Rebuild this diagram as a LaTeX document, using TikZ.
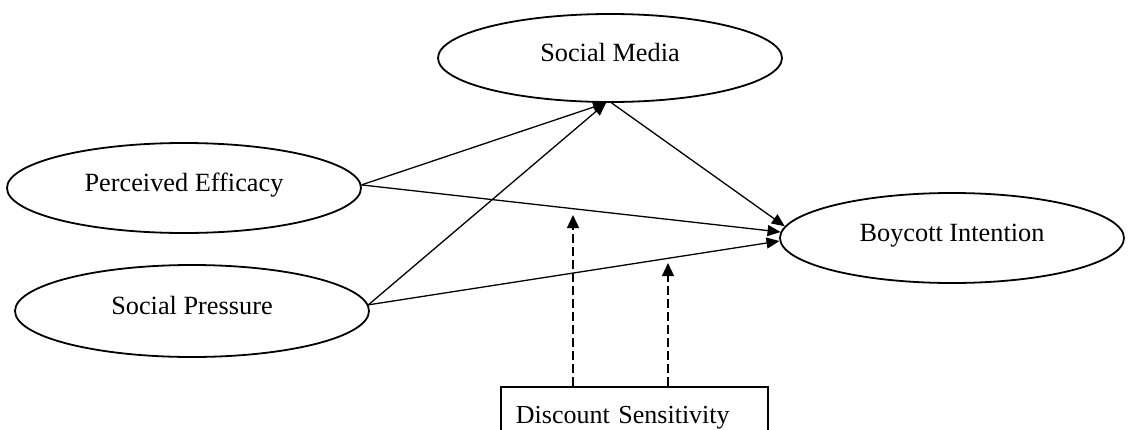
\documentclass[tikz,border=0pt]{standalone}
\usepackage{fontspec}
\setmainfont{Liberation Serif}
\usetikzlibrary{shapes.geometric,arrows.meta}
\begin{document}
\begin{tikzpicture}[x=1pt,y=-1pt,
  construct/.style={ellipse,draw,line width=1.8pt,inner sep=0pt,
    text height=17pt,text depth=10pt,
    font=\fontsize{26.3}{30}\selectfont},
  path/.style={line width=1.3pt,-{Triangle[length=13pt,width=11pt]}},
  modpath/.style={line width=1.3pt,dash pattern=on 9pt off 4pt,-{Triangle[length=13pt,width=12pt]}},
  modbox/.style={draw,line width=1.8pt,rectangle,text width=237pt,inner xsep=15pt,
    inner ysep=19pt,align=left,anchor=north west,
    font=\fontsize{26}{30}\selectfont}]
\useasboundingbox (0,0) rectangle (1128,429);
\clip (0,0) rectangle (1128,429);
\fill[white] (0,0) rectangle (1128,429);
\node[construct,minimum width=344pt,minimum height=88pt] (sm) at (610,58) {Social Media};
\node[construct,minimum width=354pt,minimum height=90pt] (pe) at (184,188) {Perceived Efficacy};
\node[construct,minimum width=354pt,minimum height=92pt] (sp) at (192,311) {Social Pressure};
\node[construct,minimum width=344pt,minimum height=90pt] (bi) at (952,238) {Boycott Intention};
\node[modbox] (ds) at (500,386) {Discount Sensitivity};
\coordinate (t1) at (573,215);
\coordinate (t2) at (668,263);
\draw[path] (pe.1) -- (sm.265);
\draw[path] (sp.2) -- (sm.265);
\draw[path] (sm.272) -- (bi.176);
\draw[path] (pe.1) -- (bi.178);
\draw[path] (sp.2) -- (bi.181);
\draw[modpath] (t1 |- ds.north) -- (t1);
\draw[modpath] (t2 |- ds.north) -- (t2);
\end{tikzpicture}
\end{document}
